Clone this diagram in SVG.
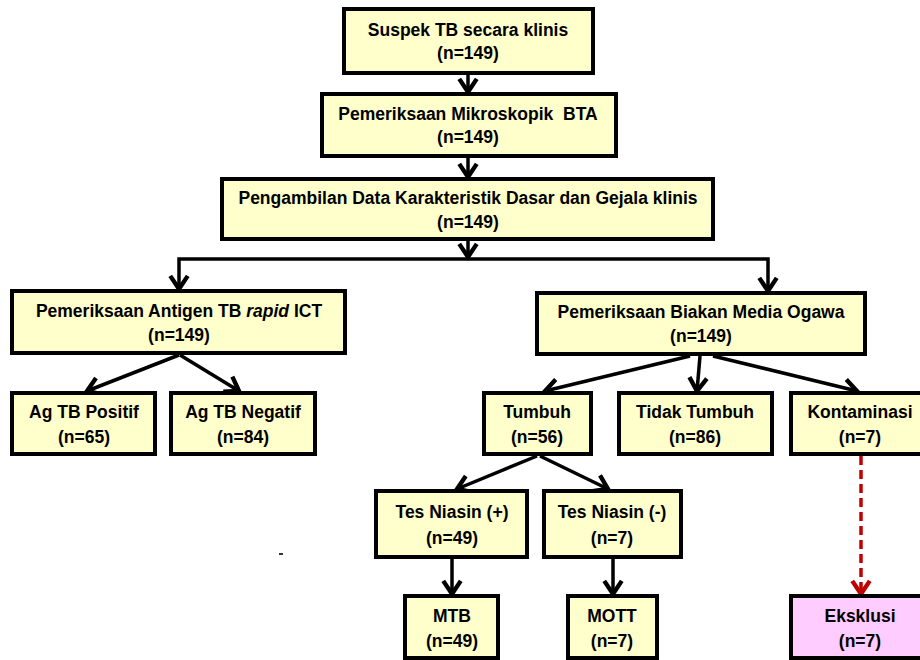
<svg xmlns="http://www.w3.org/2000/svg" width="920" height="660" viewBox="0 0 920 660">
<style>
.box{fill:#FFFFCC;stroke:#000;stroke-width:4}
.pink{fill:#FFCCFF;stroke:#000;stroke-width:4}
text{font-family:"Liberation Sans",Arial,sans-serif;font-weight:bold;font-size:17.5px;fill:#000;text-anchor:middle;white-space:pre}
.c{fill:none;stroke:#000;stroke-width:3.5}
.d{fill:none;stroke:#C00000;stroke-width:3.5;stroke-dasharray:9,5}
</style>
<defs>
<marker id="ah" markerUnits="userSpaceOnUse" markerWidth="20" markerHeight="20" viewBox="-12 -8 14 16" refX="0" refY="0" orient="auto" overflow="visible">
<path d="M-10.5,-7 L0,0 L-10.5,7" fill="none" stroke="#000" stroke-width="3.5"/>
</marker>
<marker id="ahr" markerUnits="userSpaceOnUse" markerWidth="20" markerHeight="20" viewBox="-12 -8 14 16" refX="0" refY="0" orient="auto" overflow="visible">
<path d="M-10.5,-7 L0,0 L-10.5,7" fill="none" stroke="#C00000" stroke-width="3.5"/>
</marker>
</defs>
<rect width="920" height="660" fill="#fff"/>

<g id="connectors">
<path class="c" d="M468,75 V92" marker-end="url(#ah)"/>
<path class="c" d="M468,158 V177" marker-end="url(#ah)"/>
<path class="c" d="M468,241 V257" marker-end="url(#ah)"/>
<path class="c" d="M468,259 H179 V289" marker-end="url(#ah)"/>
<path class="c" d="M468,259 H768 V291" marker-end="url(#ah)"/>
<path class="c" d="M179,355 L87,391" marker-end="url(#ah)"/>
<path class="c" d="M180,355 L239,391" marker-end="url(#ah)"/>
<path class="c" d="M690,356 L545,391" marker-end="url(#ah)"/>
<path class="c" d="M700,356 L697,391" marker-end="url(#ah)"/>
<path class="c" d="M713,356 L857,391" marker-end="url(#ah)"/>
<path class="c" d="M537,456 L457,489" marker-end="url(#ah)"/>
<path class="c" d="M540,456 L608,489" marker-end="url(#ah)"/>
<path class="c" d="M452,559 V594" marker-end="url(#ah)"/>
<path class="c" d="M613,559 V594" marker-end="url(#ah)"/>
<path class="d" d="M861,456 V594" marker-end="url(#ahr)"/>
</g>

<g id="n1"><rect class="box" x="344" y="9" width="249" height="64"/><text x="468" y="36">Suspek TB secara klinis</text><text x="468" y="59">(n=149)</text></g>
<g id="n2"><rect class="box" x="322" y="94" width="294" height="62"/><text x="468" y="120">Pemeriksaan Mikroskopik  BTA</text><text x="468" y="143">(n=149)</text></g>
<g id="n3"><rect class="box" x="222" y="179" width="491" height="60"/><text x="468" y="204">Pengambilan Data Karakteristik Dasar dan Gejala klinis</text><text x="468" y="228">(n=149)</text></g>
<g id="n4"><rect class="box" x="12" y="291" width="333" height="62"/><text x="179" y="317">Pemeriksaan Antigen TB <tspan font-style="italic">rapid</tspan> ICT</text><text x="179" y="341">(n=149)</text></g>
<g id="n5"><rect class="box" x="12" y="393" width="143" height="61"/><text x="84" y="418">Ag TB Positif</text><text x="84" y="443">(n=65)</text></g>
<g id="n6"><rect class="box" x="171" y="393" width="144" height="61"/><text x="243" y="418">Ag TB Negatif</text><text x="243" y="443">(n=84)</text></g>
<g id="n7"><rect class="box" x="537" y="293" width="328" height="61"/><text x="701" y="318">Pemeriksaan Biakan Media Ogawa</text><text x="701" y="342">(n=149)</text></g>
<g id="n8"><rect class="box" x="484" y="393" width="107" height="61"/><text x="537" y="418">Tumbuh</text><text x="537" y="443">(n=56)</text></g>
<g id="n9"><rect class="box" x="619" y="393" width="153" height="61"/><text x="695" y="418">Tidak Tumbuh</text><text x="695" y="443">(n=86)</text></g>
<g id="n10"><rect class="box" x="791" y="393" width="138" height="61"/><text x="860" y="418">Kontaminasi</text><text x="860" y="443">(n=7)</text></g>
<g id="n11"><rect class="box" x="376" y="491" width="151" height="66"/><text x="452" y="518">Tes Niasin (+)</text><text x="452" y="544">(n=49)</text></g>
<g id="n12"><rect class="box" x="544" y="491" width="137" height="66"/><text x="612" y="518">Tes Niasin (-)</text><text x="612" y="544">(n=7)</text></g>
<g id="n13"><rect class="box" x="405" y="596" width="93" height="62"/><text x="452" y="622">MTB</text><text x="452" y="647">(n=49)</text></g>
<g id="n14"><rect class="box" x="568" y="596" width="89" height="62"/><text x="612" y="622">MOTT</text><text x="612" y="647">(n=7)</text></g>
<g id="n15"><rect class="pink" x="791" y="596" width="138" height="62"/><text x="860" y="622">Eksklusi</text><text x="860" y="647">(n=7)</text></g>
<rect x="279" y="553" width="4" height="2" fill="#333"/>
</svg>
